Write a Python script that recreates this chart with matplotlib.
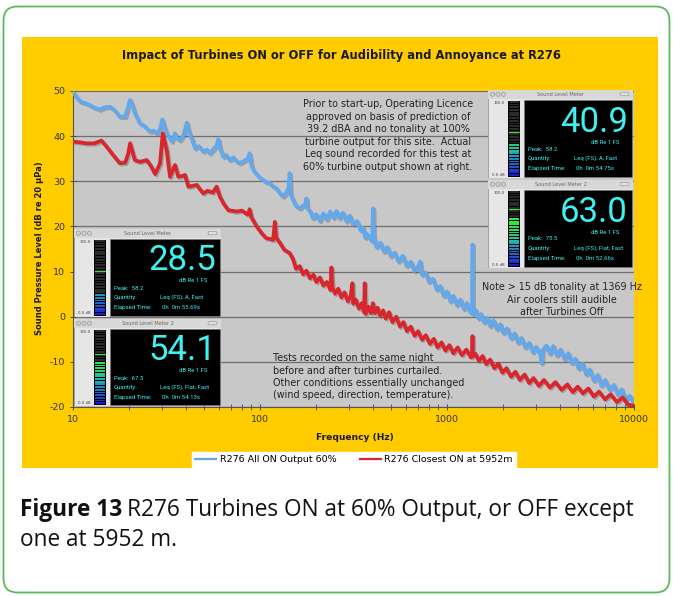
"""
R276 turbines ON / OFF spectrum comparison
------------------------------------------
Narrow-band sound pressure level spectra with the sound level meter
readouts pasted on top, as in the report figure.
"""

import matplotlib
matplotlib.use('Agg')
import matplotlib.pyplot as plt
import matplotlib.patheffects as pe
from matplotlib.patches import Rectangle, Circle, FancyBboxPatch
from matplotlib.colors import LinearSegmentedColormap

plt.rcParams['axes.unicode_minus'] = False

# ============================================================
# Data
# ============================================================

blue_freq = [10, 10.5, 11, 11.7, 12.3, 13, 13.9, 14.8, 15.8, 16.8,
             17.8, 19, 19.7, 20.2, 20.8, 21.4, 22.8, 24, 25.8, 27,
             28, 29.2, 30, 30.8, 31.7, 33.7, 35.1, 36, 37.2, 39,
             40.6, 41.8, 43.1, 44.9, 47, 49.7, 52, 54, 56, 58.5,
             59.8, 61.5, 63.7, 66, 69, 72, 75, 78, 82, 86,
             88, 90, 92, 96, 100, 104, 108, 113, 117.6, 122,
             128, 133, 138, 142, 144, 146, 150, 156, 163, 170,
             175, 177, 179, 185, 192, 200, 209, 218, 228, 237,
             247, 256, 266, 278, 290, 302, 315, 330, 345, 356,
             365, 372, 398, 402, 406, 420, 440, 460, 480, 500,
             525, 550, 580, 610, 640, 670, 700, 718, 735, 770,
             800, 840, 880, 920, 960, 1000, 1040, 1080, 1130, 1180,
             1230, 1280, 1330, 1365, 1369, 1373, 1420, 1470, 1520, 1580,
             1640, 1700, 1770, 1850, 1930, 2000, 2100, 2200, 2300, 2400,
             2500, 2620, 2750, 2880, 3000, 3150, 3200, 3250, 3400, 3550,
             3700, 3870, 4050, 4250, 4450, 4650, 4850, 5050, 5300, 5550,
             5800, 6100, 6400, 6700, 7000, 7400, 7800, 8200, 8600, 9000,
             9500, 10000]
blue_db = [49.8, 48.5, 47.6, 47.3, 46.9, 46.3, 45.9, 46.4, 46.5, 45.6,
           44.3, 44.3, 46.5, 48.0, 46.8, 45.1, 42.8, 42.3, 41.0, 41.2,
           40.6, 41.5, 43.7, 42.0, 40.6, 38.8, 40.6, 39.5, 39.1, 40.2,
           43.0, 40.8, 39.5, 37.3, 37.8, 36.6, 37.0, 36.2, 37.0, 37.8,
           39.3, 37.0, 35.4, 35.8, 34.7, 35.3, 34.4, 34.0, 34.5, 35.0,
           36.2, 33.5, 32.5, 31.5, 30.8, 30.3, 29.8, 29.6, 28.8, 28.5,
           27.3, 26.6, 27.5, 28.5, 31.8, 27.0, 25.9, 24.5, 24.0, 24.6,
           25.0, 26.2, 24.0, 23.4, 21.8, 22.7, 21.2, 22.9, 21.5, 23.3,
           21.9, 23.4, 21.8, 23.0, 21.1, 22.4, 20.4, 21.2, 19.1, 19.7,
           17.5, 18.4, 16.7, 24.0, 17.6, 15.4, 16.4, 14.4, 15.4, 13.4,
           14.2, 12.2, 13.5, 11.2, 12.2, 10.1, 11.1, 12.2, 9.3, 9.8,
           7.7, 8.4, 6.0, 6.8, 4.6, 5.6, 3.4, 4.6, 2.6, 3.8,
           1.7, 3.0, 1.0, 2.2, 16.0, 0.6, 1.5, -0.4, 0.6, -1.3,
           -0.2, -2.1, -0.8, -2.8, -1.7, -3.6, -2.6, -4.8, -3.7, -5.8,
           -4.7, -6.8, -5.8, -7.9, -6.7, -8.4, -10.3, -7.4, -6.4, -8.2,
           -6.5, -8.6, -7.3, -9.4, -8.1, -10.3, -9.3, -11.5, -10.4, -12.8,
           -11.7, -14.2, -12.9, -15.3, -14.0, -16.2, -15.1, -17.3, -16.1, -18.4,
           -17.5, -19.2]

red_freq = [10, 11, 11.8, 13, 14.2, 15.1, 16.4, 17.8, 19, 19.7,
            20.2, 20.8, 21.4, 22.8, 24.8, 26, 27.5, 29.2, 30.2, 31.7,
            33, 35.1, 36.6, 38.5, 39.7, 41.4, 45.9, 49.7, 52.4, 56,
            58.6, 61, 64, 67.7, 75, 80, 86, 88, 90, 96,
            102, 108, 114, 117.6, 120, 122, 128, 135, 144, 150,
            156, 163, 170, 177, 185, 193, 200, 209, 218, 228,
            238, 241, 244, 252, 262, 272, 283, 295, 305, 312,
            315, 325, 338, 350, 360, 363, 367, 380, 392, 402,
            412, 425, 440, 455, 470, 490, 510, 535, 560, 585,
            610, 640, 670, 700, 735, 770, 810, 850, 890, 935,
            980, 1030, 1080, 1140, 1200, 1270, 1340, 1366, 1369, 1372,
            1420, 1480, 1550, 1620, 1700, 1790, 1880, 1980, 2080, 2200,
            2320, 2450, 2600, 2750, 2900, 3100, 3300, 3550, 3800, 4100,
            4400, 4700, 5000, 5330, 5700, 6100, 6500, 7000, 7500, 8100,
            8700, 9300, 10000]
red_db = [38.8, 38.6, 38.4, 38.4, 39.0, 37.7, 35.8, 34.0, 34.1, 36.0,
          38.4, 36.5, 34.7, 34.3, 34.7, 33.5, 31.6, 34.0, 40.6, 36.9,
          31.0, 33.6, 31.0, 31.2, 31.4, 28.8, 29.2, 27.3, 27.9, 27.5,
          28.8, 26.6, 25.0, 23.6, 23.3, 23.5, 22.6, 23.8, 22.0, 20.0,
          18.5, 17.4, 17.2, 17.0, 21.0, 17.5, 16.3, 14.8, 14.1, 12.8,
          10.6, 11.2, 9.4, 10.2, 8.5, 9.3, 7.7, 8.7, 6.9, 7.7,
          5.9, 10.9, 6.5, 5.1, 6.2, 4.3, 5.4, 3.4, 4.5, 7.4,
          2.9, 3.8, 1.8, 3.0, 1.0, 7.4, 0.6, 2.2, 0.8, 3.0,
          0.8, 2.0, 0.2, 1.4, -0.4, 1.0, -1.2, 0.0, -2.2, -1.2,
          -3.2, -2.2, -4.2, -3.2, -5.1, -4.1, -6.0, -4.9, -6.8, -5.7,
          -7.5, -6.3, -8.1, -6.8, -8.5, -7.3, -9.0, -8.0, -4.3, -8.8,
          -8.2, -9.8, -8.7, -10.5, -9.5, -11.4, -10.4, -12.4, -11.4, -13.3,
          -12.2, -14.0, -12.8, -14.7, -13.6, -15.3, -14.0, -15.7, -14.5, -16.2,
          -15.0, -16.7, -15.5, -17.0, -15.9, -17.7, -16.6, -18.3, -17.2, -18.9,
          -17.9, -19.5, -19.7]

series_labels = ['R276 All ON Output 60%', 'R276 Closest ON at 5952m']
x_ticks = [10, 100, 1000, 10000]
y_ticks = [-20, -10, 0, 10, 20, 30, 40, 50]

# Sound level meter screenshots: top-right pair (ON), left pair (OFF)
meter_titles = ['Sound Level Meter', 'Sound Level Meter 2',
                'Sound Level Meter', 'Sound Level Meter 2']
meter_values = [40.9, 63.0, 28.5, 54.1]
meter_peaks = [58.2, 75.5, 58.2, 67.5]
meter_quantity = ['Leq (FS), A, Fast', 'Leq (FS), Flat, Fast',
                  'Leq (FS), A, Fast', 'Leq (FS), Flat, Fast']
meter_elapsed = ['0h  0m 54.75s', '0h  0m 52.66s',
                 '0h  0m 55.69s', '0h  0m 54.13s']

title = 'Impact of Turbines ON or OFF for Audibility and Annoyance at R276'
note_prior = ['Prior to start-up, Operating Licence',
              'approved on basis of prediction of',
              '39.2 dBA and no tonality at 100%',
              'turbine output for this site.  Actual',
              'Leq sound recorded for this test at',
              '60% turbine output shown at right.']
note_tonal = ['Note > 15 dB tonality at 1369 Hz',
              'Air coolers still audible',
              'after Turbines Off']
note_tests = ['Tests recorded on the same night',
              'before and after turbines curtailed.',
              'Other conditions essentially unchanged',
              '(wind speed, direction, temperature).']

# ============================================================
# Figure setup (everything positioned in pixels)
# ============================================================

W, H = 673, 596
fig = plt.figure(figsize=(W / 100, H / 100), dpi=100)


def px_box(x0, y0, w, h):
    """Pixel box (top-left origin) -> figure fraction rect."""
    return [x0 / W, 1 - (y0 + h) / H, w / W, h / H]


def fig_text(x, y, s, **kw):
    return fig.text(x / W, 1 - y / H, s, **kw)


# --- page background: green rounded frame + yellow chart panel ---
bg = fig.add_axes([0, 0, 1, 1])
bg.set_xlim(0, W)
bg.set_ylim(H, 0)
bg.axis('off')
bg.set_zorder(-1)
bg.add_patch(FancyBboxPatch((3.5, 6.5), 666, 586,
                            boxstyle='round,pad=0,rounding_size=14',
                            facecolor='white', edgecolor='#5cb85c', lw=1.3))
bg.add_patch(Rectangle((22, 37), 636, 431, facecolor='#ffcc00', edgecolor='none'))

# ============================================================
# Spectrum plot
# ============================================================

ax = fig.add_axes(px_box(73, 91, 561, 316))
ax.set_facecolor('#c8c8c8')

shadow = [pe.SimpleLineShadow(offset=(1.0, -1.0), shadow_color='#606060', alpha=0.4),
          pe.Normal()]
l1, = ax.plot(blue_freq, blue_db, color='#62a8ec', lw=2.7, path_effects=shadow,
              solid_joinstyle='round', zorder=3)
l2, = ax.plot(red_freq, red_db, color='#d8262c', lw=2.7, path_effects=shadow,
              solid_joinstyle='round', zorder=3)

ax.set_xscale('log')
ax.set_xlim(10, 10000)
ax.set_ylim(-20, 50)
ax.set_xticks(x_ticks)
ax.set_xticklabels([str(t) for t in x_ticks])
ax.set_yticks(y_ticks)
ax.yaxis.grid(True, color='#6e6e6e', lw=0.9)
ax.set_axisbelow(True)
ax.tick_params(axis='both', which='major', direction='inout', length=5,
               width=0.7, color='#444444', labelsize=6.8, labelcolor='#333333', pad=3)
ax.tick_params(axis='x', which='minor', direction='inout', length=4,
               width=0.6, color='#444444')
for side in ('top', 'right'):
    ax.spines[side].set_visible(False)
for side in ('left', 'bottom'):
    ax.spines[side].set_color('#555555')
    ax.spines[side].set_linewidth(0.8)

# --- titles and labels ---
fig_text(342, 55, title, fontsize=8.3, weight='bold', ha='center', va='center',
         color='#1a1a1a')
fig_text(355, 437, 'Frequency (Hz)', fontsize=6.6, weight='bold', ha='center',
         va='center', color='#1a1a1a')
fig_text(40, 248, 'Sound Pressure Level (dB re 20 \u03bcPa)', fontsize=6.0,
         weight='bold', ha='center', va='center', rotation=90, color='#1a1a1a')

# --- annotations ---
for i, line in enumerate(note_prior):
    fig_text(388, 104.3 + i * 12.5, line, fontsize=6.9, ha='center',
             va='center', color='#222222')
for i, line in enumerate(note_tonal):
    fig_text(562, 287.3 + i * 12.5, line, fontsize=6.9, ha='center',
             va='center', color='#222222')
for i, line in enumerate(note_tests):
    fig_text(273, 358.3 + i * 12.2, line, fontsize=6.9, ha='left',
             va='center', color='#222222')

# --- legend ---
leg = fig.legend([l1, l2], series_labels, loc='center',
                 bbox_to_anchor=(354 / W, 1 - 460 / H), ncol=2, fontsize=6.8,
                 frameon=True, fancybox=False, facecolor='white',
                 edgecolor='white', framealpha=1, handlelength=2.2,
                 handletextpad=0.4, columnspacing=2.5, borderpad=0.35)
for h in leg.legend_handles:
    h.set_path_effects([])
    h.set_linewidth(1.6)

# ============================================================
# Sound level meter windows
# ============================================================

cyan = '#3ff0ee'
level_cmap = LinearSegmentedColormap.from_list(
    'meter', ['#1c1cd0', '#1f6fd0', '#22b8a8', '#2fe04a', '#33f033'])
meter_font = ['Roboto', 'DejaVu Sans']


def draw_meter(x0, y0, w, h, name, value, peak, quantity, elapsed):
    m = fig.add_axes(px_box(x0, y0, w, h))
    m.set_xlim(0, w)
    m.set_ylim(h, 0)
    m.axis('off')

    # window chrome
    m.add_patch(Rectangle((0, 0), w, h, facecolor='#e6e6e6',
                          edgecolor='#9a9a9a', lw=0.6))
    m.add_patch(Rectangle((0, 0), w, 8.5, facecolor='#d8d8d8', edgecolor='none'))
    for cx in (4.5, 10, 15.5):
        m.add_patch(Circle((cx, 4.2), 2.1, facecolor='#cfcfcf',
                           edgecolor='#8c8c8c', lw=0.4))
    m.add_patch(FancyBboxPatch((w - 13, 2.6), 9, 3.2,
                               boxstyle='round,pad=0,rounding_size=1.5',
                               facecolor='#e0e0e0', edgecolor='#8c8c8c', lw=0.4))
    m.text(w / 2, 4.4, name, fontsize=3.6, color='#666666', ha='center', va='center')

    # level bar
    top, bot = 10.5, h - 1.5
    m.add_patch(Rectangle((20, top), 12, bot - top, facecolor='black'))
    nseg = 28
    seg_h = (bot - top) / nseg
    for i in range(nseg):
        level = i / nseg * 100
        color = level_cmap(min(level / 65, 1)) if level < value else '#2b2b2b'
        yb = bot - (i + 1) * seg_h
        m.add_patch(Rectangle((20.8, yb + 0.4), 10.4, seg_h - 0.9,
                              facecolor=color, edgecolor='none'))
    yp = bot - peak / 100 * (bot - top)
    m.plot([20.8, 31.2], [yp, yp], color='#3ae03a', lw=0.8)
    m.text(17, top + 0.5, '100.0', fontsize=2.8, ha='right', va='top', color='#444444')
    m.text(17, bot, '0.0 dB', fontsize=2.8, ha='right', va='bottom', color='#444444')

    # display
    m.add_patch(Rectangle((36, 9.5), w - 37, h - 10.5, facecolor='black',
                          edgecolor='#777777', lw=0.4))
    m.text(w - 5, 41.5, f'{value:.1f}', fontsize=25, color=cyan, ha='right',
           va='baseline', family=meter_font)
    m.text(w - 14, 52, 'dB Re 1 FS', fontsize=4.2, color=cyan, ha='right',
           va='center', family=meter_font)
    m.text(40, 59, f'Peak:  {peak:.1f}', fontsize=4.3, color=cyan, va='center',
           family=meter_font)
    m.text(40, 68.5, 'Quantity:', fontsize=4.3, color=cyan, va='center',
           family=meter_font)
    m.text(86, 68.5, quantity, fontsize=4.3, color=cyan, va='center',
           family=meter_font)
    m.text(40, 78.5, 'Elapsed Time:', fontsize=4.3, color=cyan, va='center',
           family=meter_font)
    m.text(88, 78.5, elapsed, fontsize=4.3, color=cyan, va='center',
           family=meter_font)


meter_boxes = [(488, 90, 145, 88), (488, 180, 145, 88),
               (74, 229, 147, 88), (74, 319, 147, 87)]
for k, (bx, by, bw, bh) in enumerate(meter_boxes):
    draw_meter(bx, by, bw, bh, meter_titles[k], meter_values[k], meter_peaks[k],
               meter_quantity[k], meter_elapsed[k])

# ============================================================
# Caption
# ============================================================

cap_font = ['Open Sans', 'DejaVu Sans']
t = fig_text(20, 510, 'Figure 13', fontsize=16.3, weight='bold', family=cap_font,
             va='center', color='#111111')
fig.canvas.draw()
bb = t.get_window_extent()
fig_text(bb.x1 + 5, 510, 'R276 Turbines ON at 60% Output, or OFF except',
         fontsize=16.3, family=cap_font, va='center', color='#111111')
fig_text(20, 540, 'one at 5952 m.', fontsize=16.3, family=cap_font, va='center',
         color='#111111')

fig.savefig('out.png', dpi=100)
